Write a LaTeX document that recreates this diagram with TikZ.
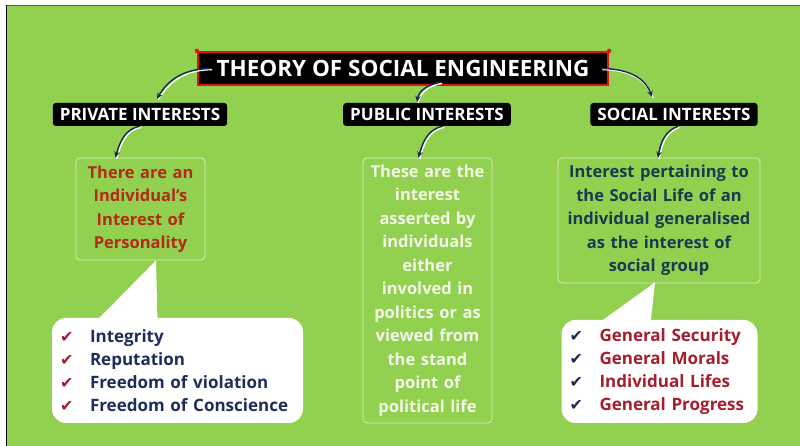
\documentclass[tikz,border=0pt]{standalone}
\usepackage{fontspec}
\setmainfont{Open Sans}
\newfontfamily\symfont{DejaVu Sans}
\usetikzlibrary{arrows.meta}

\definecolor{leaf}{RGB}{146,208,80}
\definecolor{navy}{RGB}{22,44,78}
\definecolor{ink}{RGB}{31,45,92}
\definecolor{brick}{RGB}{178,42,26}
\definecolor{crimson}{RGB}{165,30,45}
\definecolor{slate}{RGB}{26,58,80}
\definecolor{paleline}{RGB}{214,236,186}
\definecolor{cream}{RGB}{244,248,232}
\definecolor{titlered}{RGB}{225,20,20}

\newcommand{\tick}[1]{\makebox[30pt][l]{\color{#1}\symfont\fontsize{16}{16}\selectfont ✔}}

\tikzset{
	head/.style={fill=black, text=white, rounded corners=3pt, minimum height=23pt, inner xsep=7pt, font=\bfseries\fontsize{17}{17}\selectfont},
	desc/.style={draw=paleline, line width=0.8pt, rounded corners=4pt, align=center, inner xsep=4pt, font=\bfseries\fontsize{16.5}{23.5}\selectfont},
	bubble/.style={fill=white, rounded corners=14pt, align=left, inner xsep=8pt, font=\bfseries\fontsize{17}{23}\selectfont},
	link/.style={draw=navy, line width=1.4pt, -{Stealth[length=6pt,width=5.5pt]}, preaction={draw=white, -, line width=1.4pt, transform canvas={shift={(1.2pt,-1.2pt)}}}}
}

\begin{document}
\begin{tikzpicture}[x=1pt,y=1pt]

	\useasboundingbox (0,0) rectangle (800,446);
	\fill[white] (0,0) rectangle (800,446);
	\fill[leaf] (6,0) rectangle (800,440);
	\draw[black!65, line width=1pt] (6,440.5) -- (800,440.5);
	\draw[black, line width=1pt] (6,0) -- (6,441);

	\node[fill=black, draw=titlered, line width=2.2pt, text=white, minimum width=410pt, minimum height=33pt, font=\bfseries\fontsize{22.5}{22.5}\selectfont] (title) at (403,377.5) {THEORY OF SOCIAL ENGINEERING};
	\fill[titlered] (title.north west) circle (2.2pt);
	\fill[titlered] (title.north east) circle (2.2pt);

	\node[head] (priv) at (140,331.5) {PRIVATE INTERESTS};
	\node[head] (pub) at (427,331.5) {PUBLIC INTERESTS};
	\node[head] (soc) at (674,331.5) {SOCIAL INTERESTS};

	\node[desc, text=brick, text width=121pt, minimum height=102pt] (privtxt) at (140.5,237) {There are an\\Individual's\\Interest of\\Personality};
	\node[desc, text=cream, text width=121pt, minimum height=265pt] (pubtxt) at (427.5,155.5) {These are the\\interest\\asserted by\\individuals\\either\\involved in\\politics or as\\viewed from\\the stand\\point of\\political life};
	\node[desc, text=slate, text width=194pt, minimum height=125pt] (soctxt) at (659,225.5) {Interest pertaining to\\the Social Life of an\\individual generalised\\as the interest of\\social group};

	\node[bubble, text=ink, text width=235pt, minimum height=105pt] (privlist) at (177.5,75.5) {\tick{crimson}Integrity\\\tick{crimson}Reputation\\\tick{crimson}Freedom of violation\\\tick{crimson}Freedom of Conscience};
	\node[bubble, text=crimson, text width=180pt, minimum height=103pt] (soclist) at (659.5,74.5) {\tick{navy}General Security\\\tick{navy}General Morals\\\tick{navy}Individual Lifes\\\tick{navy}General Progress};

	\fill[white] ([xshift=15.5pt]privtxt.south) -- ([xshift=-82pt,yshift=-4pt]privlist.north) -- ([xshift=-20pt,yshift=-4pt]privlist.north) -- cycle;
	\fill[white] ([xshift=-4pt,yshift=1pt]soctxt.south) -- ([xshift=-62pt,yshift=-4pt]soclist.north) -- ([xshift=-9pt,yshift=-4pt]soclist.north) -- cycle;

	\draw[link] ([xshift=14pt]title.west) to[out=180,in=60] ([xshift=17pt,yshift=4pt]priv.north);
	\draw[link] ([xshift=38pt,yshift=4pt]title.south) to[out=190,in=80] ([xshift=-10pt,yshift=1pt]pub.north);
	\draw[link] ([xshift=-8pt]title.east) to[out=0,in=110] ([xshift=-22pt,yshift=6pt]soc.north);

	\draw[link] (priv.south) to[out=190,in=75] ([xshift=-25pt]privtxt.north);
	\draw[link] ([xshift=16pt]pub.south) to[out=190,in=75] ([xshift=-9pt]pubtxt.north);
	\draw[link] ([xshift=4pt]soc.south) to[out=200,in=80] ([xshift=-1pt]soctxt.north);

\end{tikzpicture}
\end{document}
